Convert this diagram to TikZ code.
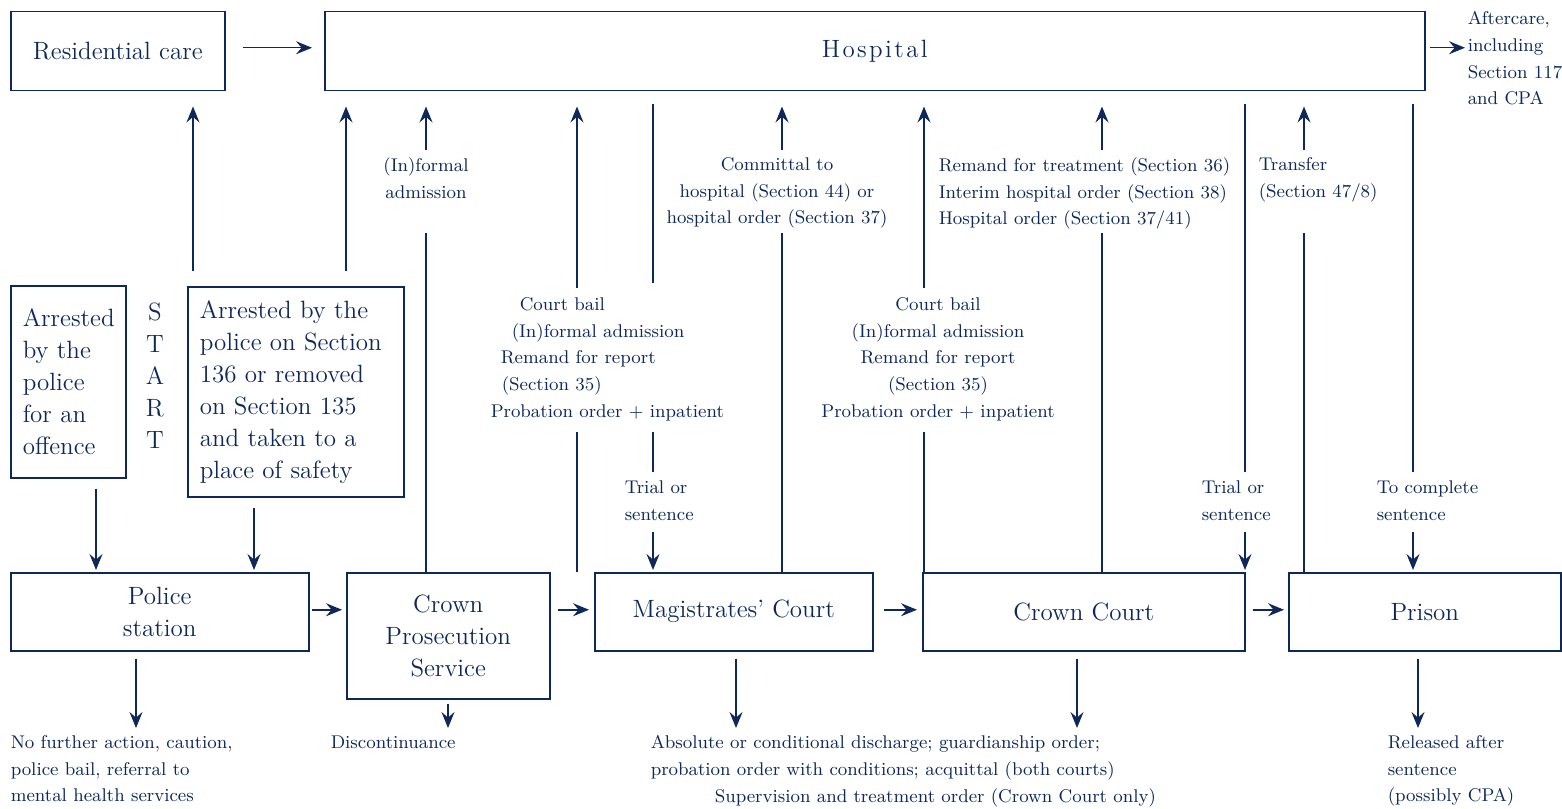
\documentclass[tikz,border=0pt]{standalone}
\usepackage{fontspec}
\usetikzlibrary{arrows.meta}
\definecolor{navy}{RGB}{14,40,90}
\tikzset{every picture/.style={line width=0.75pt}}
\tikzset{
  box/.style={draw=navy, rectangle, inner sep=0pt, anchor=north west, text=navy,
    font=\fontsize{12.5}{16}\selectfont, align=center},
  note/.style={inner sep=0pt, text=navy, font=\fontsize{9.2}{13.3}\selectfont,
    anchor=north west, align=left},
  arr/.style={draw=navy, -{Stealth[length=8pt,width=6.5pt,inset=2.8pt]}},
  ln/.style={draw=navy},
}

\begin{document}
\begin{tikzpicture}[x=0.5pt,y=0.5pt,yscale=-1,xscale=1]
    \useasboundingbox (0,0) rectangle (1562,808);

    %Shape: Rectangle [top row]
    \node[box, minimum width=107pt, minimum height=39.5pt] (res) at (10,11) {Residential care};
    \node[box, minimum width=550pt, minimum height=39.5pt] (hosp) at (324,11) {H\kern1.2pt o\kern1.2pt s\kern1.2pt p\kern1.2pt i\kern1.2pt t\kern1.2pt a\kern1.2pt l};
    %Shape: Rectangle [start boxes]
    \node[box, minimum width=57.5pt, minimum height=96pt, inner xsep=6pt, text width=45.5pt, align=left] (arrA) at (10,285) {Arrested\\by the\\police\\for an\\offence};
    \node[box, minimum width=108pt, minimum height=105pt, inner xsep=6pt, text width=96pt, align=left] (arrB) at (187,286) {Arrested by the\\police on Section\\136 or removed\\on Section 135\\and taken to a\\place of safety};
    \node[box, draw=none, anchor=north] (start) at (155,302) {S\\T\\A\\R\\T};
    %Shape: Rectangle [bottom row]
    \node[box, minimum width=149pt, minimum height=39pt] (pol) at (10,572) {Police\\station};
    \node[box, minimum width=101.5pt, minimum height=63pt] (cps) at (346,572) {Crown\\Prosecution\\Service};
    \node[box, minimum width=139pt, minimum height=39pt] (mc) at (594,572) {Magistrates’ Court};
    \node[box, minimum width=161pt, minimum height=39pt] (cc) at (922,572) {Crown Court};
    \node[box, minimum width=136pt, minimum height=39pt] (pri) at (1288,572) {Prison};

    % Text Node
    \node[note] (aft) at (1467,11) {Aftercare,\\including\\Section 117\\and CPA};
    % Text Node
    \node[note, anchor=north, align=center] (infA) at (426,157) {(In)formal\\admission};
    % Text Node
    \node[note, anchor=north, align=center] (com) at (777,157) {Committal to\\hospital (Section 44) or\\hospital order (Section 37)};
    % Text Node
    \node[note] (remT) at (938,157) {Remand for treatment (Section 36)\\Interim hospital order (Section 38)\\Hospital order (Section 37/41)};
    % Text Node
    \node[note] (trans) at (1258,157) {Transfer\\(Section 47/8)};
    % Text Node
    \node[note] (bailA) at (490,297) {\hspace*{14.5pt}Court bail\\\hspace*{10.5pt}(In)formal admission\\\hspace*{5pt}Remand for report\\\hspace*{5.5pt}(Section 35)\\Probation order + inpatient};
    % Text Node
    \node[note, anchor=north, align=center] (bailB) at (938,297) {Court bail\\(In)formal admission\\Remand for report\\(Section 35)\\Probation order + inpatient};
    % Text Node
    \node[note] (trA) at (624,480) {Trial or\\sentence};
    % Text Node
    \node[note] (trB) at (1201,480) {Trial or\\sentence};
    % Text Node
    \node[note] (cmpl) at (1376,480) {To complete\\sentence};
    % Text Node
    \node[note] (nfa) at (10,735) {No further action, caution,\\police bail, referral to\\mental health services};
    % Text Node
    \node[note] (disc) at (330,735) {Discontinuance};
    % Text Node
    \node[note] (absd) at (650,735) {Absolute or conditional discharge; guardianship order;\\probation order with conditions; acquittal (both courts)\\\hspace*{32pt}Supervision and treatment order (Crown Court only)};
    % Text Node
    \node[note] (rel) at (1387,735) {Released after\\sentence\\(possibly CPA)};

    % levels where the vertical lines break
    \coordinate (hosB) at (0,104);
    \coordinate (upT) at (0,150);
    \coordinate (upB) at (0,233);
    \coordinate (midT) at (0,288);
    \coordinate (midB) at (0,432);
    \coordinate (trT) at (0,472);
    \coordinate (trS) at (0,532);
    % columns
    \coordinate (sA) at (193,271);
    \coordinate (sB) at (346,271);
    \coordinate (xInf) at (426,0);
    \coordinate (xBlA) at (577,0);
    \coordinate (xTrA) at (653,0);
    \coordinate (xCom) at (782,0);
    \coordinate (xBlB) at (924,0);
    \coordinate (xRem) at (1102,0);
    \coordinate (xTrB) at (1245,0);
    \coordinate (xTra) at (1304,0);
    \coordinate (xCmp) at (1413,0);
    \coordinate (xA1) at (96,0);
    \coordinate (xA2) at (254,0);
    \coordinate (xPd) at (136,0);
    \coordinate (xCd) at (448,0);
    \coordinate (xMd) at (736,0);
    \coordinate (xKd) at (1077,0);
    \coordinate (xRd) at (1418,0);

    %Straight Lines [horizontal]
    \draw[arr, shorten <=8.5pt, shorten >=6pt] ([yshift=-1.75pt]res.east) -- ([yshift=-1.75pt]res.east -| hosp.west);
    \draw[arr, shorten <=2pt, shorten >=1pt] ([yshift=-1.75pt]hosp.east) -- ([yshift=-1.75pt]hosp.east -| aft.west);
    \draw[arr, shorten <=1pt, shorten >=2pt] ([yshift=-1pt]pol.east) -- ([yshift=-1pt]pol.east -| cps.west);
    \draw[arr, shorten <=3.5pt, shorten >=2.5pt] ([yshift=-1pt]mc.west -| cps.east) -- ([yshift=-1pt]mc.west);
    \draw[arr, shorten <=5pt, shorten >=2.5pt] ([yshift=-1pt]mc.east) -- ([yshift=-1pt]cc.west);
    \draw[arr, shorten <=3.5pt, shorten >=2pt] ([yshift=-1pt]cc.east) -- ([yshift=-1pt]pri.west);

    %Straight Lines [start boxes]
    \draw[arr, shorten >=7.5pt] (sA) -- (sA |- res.south);
    \draw[arr, shorten >=7.5pt] (sB) -- (sB |- hosp.south);
    \draw[arr, shorten <=5pt, shorten >=1pt] (xA1 |- arrA.south) -- (xA1 |- pol.north);
    \draw[arr, shorten <=5pt, shorten >=1pt] (xA2 |- arrB.south) -- (xA2 |- pol.north);

    %Straight Lines [up to hospital]
    \draw[ln] (xInf |- cps.north) -- (xInf |- upB);
    \draw[arr, shorten >=7.5pt] (xInf |- upT) -- (xInf |- hosp.south);
    \draw[ln] (xBlA |- mc.north) -- (xBlA |- midB);
    \draw[arr, shorten >=7.5pt] (xBlA |- midT) -- (xBlA |- hosp.south);
    \draw[ln] (xCom |- mc.north) -- (xCom |- upB);
    \draw[arr, shorten >=7.5pt] (xCom |- upT) -- (xCom |- hosp.south);
    \draw[ln] (xBlB |- cc.north) -- (xBlB |- midB);
    \draw[arr, shorten >=7.5pt] (xBlB |- midT) -- (xBlB |- hosp.south);
    \draw[ln] (xRem |- cc.north) -- (xRem |- upB);
    \draw[arr, shorten >=7.5pt] (xRem |- upT) -- (xRem |- hosp.south);
    \draw[ln] (xTra |- pri.north) -- (xTra |- upB);
    \draw[arr, shorten >=7.5pt] (xTra |- upT) -- (xTra |- hosp.south);

    %Straight Lines [down from hospital]
    \draw[ln] (xTrA |- hosB) -- (xTrA |- 0,283);
    \draw[ln] (xTrA |- midB) -- (xTrA |- trT);
    \draw[arr, shorten >=1pt] (xTrA |- trS) -- (xTrA |- mc.north);
    \draw[ln] (xTrB |- hosB) -- (xTrB |- trT);
    \draw[arr, shorten >=1pt] (xTrB |- trS) -- (xTrB |- cc.north);
    \draw[ln] (xCmp |- hosB) -- (xCmp |- trT);
    \draw[arr, shorten >=1pt] (xCmp |- trS) -- (xCmp |- pri.north);

    %Straight Lines [outcomes]
    \draw[arr, shorten <=3.5pt, shorten >=3.5pt] (xPd |- pol.south) -- (xPd |- nfa.north);
    \draw[arr, shorten <=2pt, shorten >=3.5pt] (xCd |- cps.south) -- (xCd |- disc.north);
    \draw[arr, shorten <=3.5pt, shorten >=3.5pt] (xMd |- mc.south) -- (xMd |- absd.north);
    \draw[arr, shorten <=3.5pt, shorten >=3.5pt] (xKd |- cc.south) -- (xKd |- absd.north);
    \draw[arr, shorten <=3.5pt, shorten >=3.5pt] (xRd |- pri.south) -- (xRd |- rel.north);
\end{tikzpicture}
\end{document}
